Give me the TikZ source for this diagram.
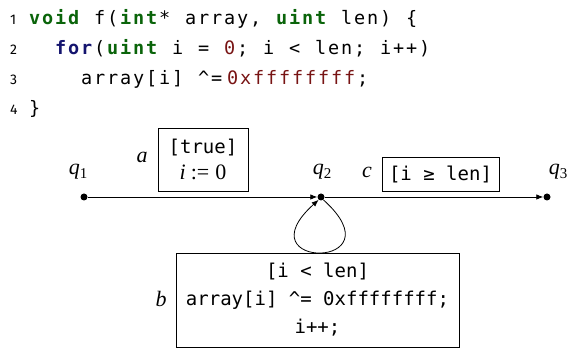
\documentclass[tikz,border=0pt]{standalone}
\usepackage{fontspec}
\usetikzlibrary{arrows.meta}
\newfontfamily\dmono{DejaVu Sans Mono}
\newfontfamily\numfont{Fira Sans}
\newfontfamily\labfont{Liberation Serif}
\definecolor{kwgreen}{RGB}{10,100,10}
\definecolor{kwblue}{RGB}{20,20,110}
\definecolor{numred}{RGB}{120,20,20}
\let\mend\relax
\def\mloop#1{\ifx#1\mend\else\makebox[13pt]{#1}\expandafter\mloop\fi}
\newcommand{\kw}{\bfseries\color{kwgreen}}
\newcommand{\kwb}{\bfseries\color{kwblue}}
\newcommand{\nm}{\color{numred}}
\newcommand{\qsub}[1]{\textit{q}\raisebox{-4pt}{\fontsize{15}{16}\selectfont #1}}
\tikzset{
  codeline/.style={anchor=base west, inner sep=0pt, font=\dmono\fontsize{18.5}{22}\selectfont},
  lnum/.style={anchor=base west, inner sep=0pt, font=\numfont\fontsize{14}{16}\selectfont},
  state/.style={circle, fill=black, inner sep=0pt, minimum size=7pt},
  slabel/.style={inner sep=0pt, font=\labfont\fontsize{22}{24}\selectfont},
  guard/.style={draw, line width=0.8pt, inner sep=0pt, font=\dmono\fontsize{19}{28}\selectfont, align=center},
  edge/.style={line width=0.8pt, -{Latex[length=7pt,width=5.5pt]}},
}
\begin{document}
\begin{tikzpicture}[x=1pt,y=-1pt]
\useasboundingbox (0,0) rectangle (571,352);
% code listing
\node[lnum] (n1) at (10,25) {1};
\node[lnum] (n2) at (10,55) {2};
\node[lnum] (n3) at (10,85) {3};
\node[lnum] (n4) at (10,115) {4};
\node[codeline] (c1) at (28,25) {{\kw\mloop void\mend}\mloop ~f(\mend{\kw\mloop int\mend}\mloop *~array,~\mend{\kw\mloop uint\mend}\mloop ~len)~\{\mend};
\node[codeline] (c2) at (28,55) {\mloop ~~\mend{\kwb\mloop for\mend}\mloop (\mend{\kw\mloop uint\mend}\mloop ~i~=~\mend{\nm\mloop 0\mend}\mloop ;~i~<~len;~i++)\mend};
\node[codeline] (c3) at (28,85) {\mloop ~~~~array[i]~\textasciicircum=\mend\hspace{3pt}{\nm\mloop 0xffffffff\mend}\mloop ;\mend};
\node[codeline] (c4) at (28,115) {\mloop \}\mend};
% states
\node[state] (q1) at (84,197) {};
\node[state] (q2) at (321,197) {};
\node[state] (q3) at (547,197) {};
\node[slabel] (l1) at (78,172) {\qsub{1}};
\node[slabel] (l2) at (322,172) {\qsub{2}};
\node[slabel] (l3) at (558,172) {\qsub{3}};
% guards
\node[guard, minimum width=90pt, minimum height=63pt] (ga) at (203,159.5) {[true]\\[-2pt]{\labfont\fontsize{22}{24}\selectfont\textit{i}\hspace{5pt}:=\hspace{6pt}0}};
\node[slabel] (la) at (142,157) {\textit{a}};
\node[guard, minimum width=117pt, minimum height=34pt] (gc) at (440.5,174) {[i ≥ len]};
\node[slabel] (lc) at (367,172) {\textit{c}};
\node[guard, minimum width=283pt, minimum height=94pt] (gb) at (317.5,300) {[i < len]\\array[i] \^{}= 0xffffffff;\\i++;};
\node[slabel] (lb) at (161,299) {\textit{b}};
% edges
\draw[edge] (q1) -- (q2);
\draw[edge] (q2) -- (q3);
\draw[edge] (q2.-50) .. controls +(42:105) and +(138:105) .. (q2.-130);
\end{tikzpicture}
\end{document}
